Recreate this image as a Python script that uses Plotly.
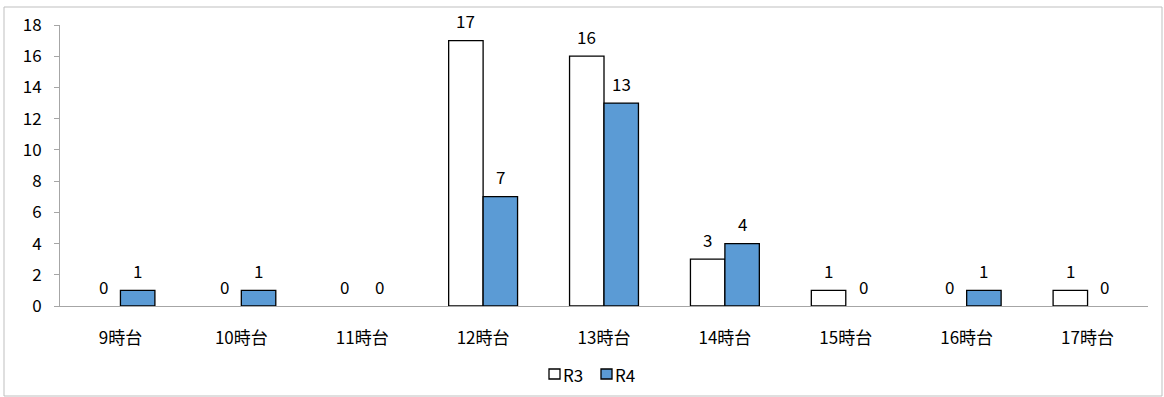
import plotly.graph_objects as go

categories = ["9時台", "10時台", "11時台", "12時台", "13時台", "14時台", "15時台", "16時台", "17時台"]
r3_values = [0, 0, 0, 17, 16, 3, 1, 0, 1]
r4_values = [1, 1, 0, 7, 13, 4, 0, 1, 0]
y_ticks = [0, 2, 4, 6, 8, 10, 12, 14, 16, 18]

series = [("R3", r3_values, "#FFFFFF", -1), ("R4", r4_values, "#5B9BD5", 1)]

font_family = "Noto Sans CJK JP, Noto Sans, sans-serif"
FS = 17

W, H = 1164, 397
M_L, M_R, M_T, M_B = 60, 16, 25, 91
BARGAP = 0.43
plot_w = W - M_L - M_R
plot_h = H - M_T - M_B
bar_px = plot_w / len(categories) * (1 - BARGAP) / 2


def px_x(px):
    return (px - M_L) / plot_w


def px_y(py):
    return (H - M_B - py) / plot_h


fig = go.Figure()
annotations = []
shapes = [dict(type="rect", xref="paper", yref="paper",
               x0=px_x(4), x1=px_x(1162), y0=px_y(396), y1=px_y(7),
               line=dict(color="#BFBFBF", width=1), fillcolor="rgba(0,0,0,0)", layer="below")]

for name, vals, color, side in series:
    # zero values are left undrawn so no outline sits on the baseline
    fig.add_trace(go.Bar(
        name=name, x=categories, y=[v if v != 0 else None for v in vals],
        marker=dict(color=color, line=dict(color="#000000", width=1.3)),
        showlegend=False,
    ))
    # value labels above each bar
    for cat, v in zip(categories, vals):
        annotations.append(dict(
            x=cat, y=v, xref="x", yref="y", text=str(v), showarrow=False,
            xshift=side * bar_px / 2, yshift=20, yanchor="middle",
            font=dict(size=FS, color="#000000"),
        ))

# compact legend under the axis
legend_items = [("R3", "#FFFFFF", 549), ("R4", "#5B9BD5", 601)]
for name, color, left in legend_items:
    shapes.append(dict(type="rect", xref="paper", yref="paper",
                       x0=px_x(left), x1=px_x(left + 11), y0=px_y(379), y1=px_y(369),
                       line=dict(color="#000000", width=1.3), fillcolor=color))
    annotations.append(dict(x=px_x(left + 12), y=px_y(374), xref="paper", yref="paper",
                            text=name, showarrow=False, xanchor="left", yanchor="middle",
                            font=dict(size=FS, color="#000000")))

fig.update_layout(
    width=W, height=H,
    margin=dict(l=M_L, r=M_R, t=M_T, b=M_B, autoexpand=False),
    paper_bgcolor="#FFFFFF", plot_bgcolor="#FFFFFF",
    font=dict(family=font_family, size=FS, color="#000000"),
    barmode="group", bargap=BARGAP, bargroupgap=0,
    showlegend=False,
    annotations=annotations,
    shapes=shapes,
)
fig.update_xaxes(
    showline=True, linecolor="#A6A6A6", linewidth=1, ticks="",
    showgrid=False, ticklabelstandoff=17, tickfont=dict(size=FS), automargin=False,
)
fig.update_yaxes(
    range=[0, 18], tickvals=y_ticks, showline=True, linecolor="#A6A6A6", linewidth=1,
    ticks="outside", ticklen=5, tickcolor="#A6A6A6", showgrid=False, zeroline=False,
    tickfont=dict(size=FS), ticklabelstandoff=9, automargin=False,
)

fig.write_html("out.html")
